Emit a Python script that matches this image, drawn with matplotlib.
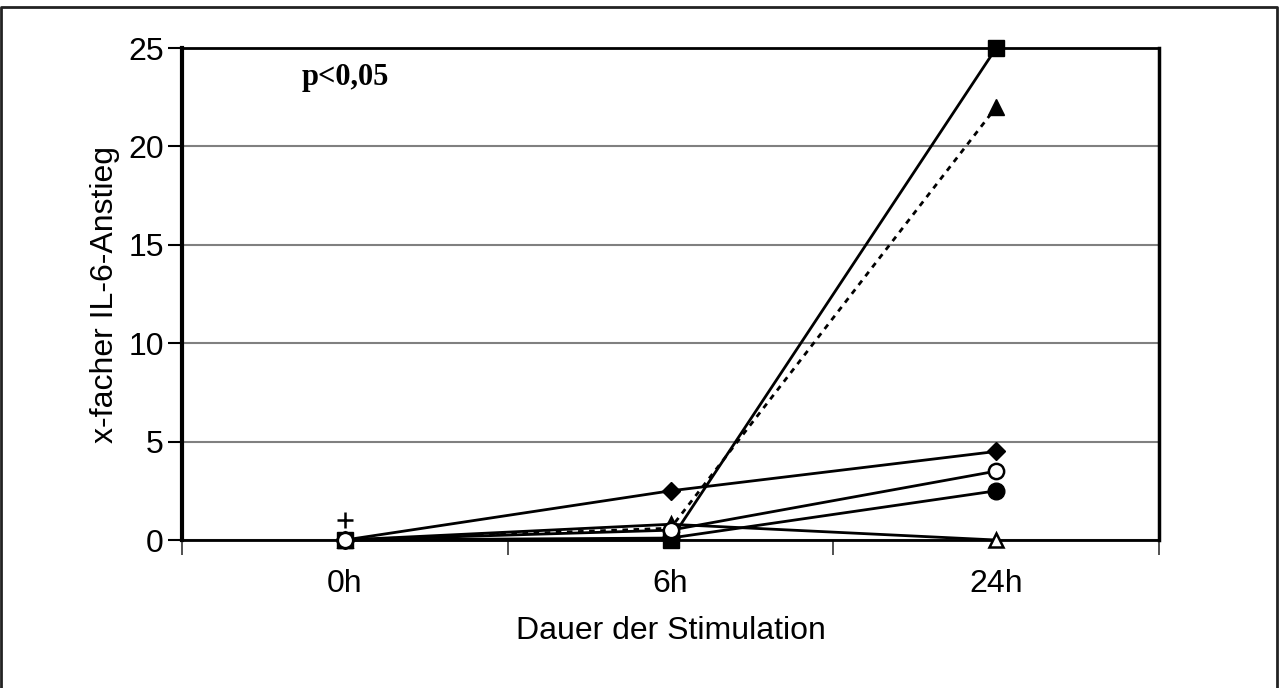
import matplotlib.pyplot as plt
from matplotlib.lines import Line2D

# categories and series values
categories = ['0h', '6h', '24h']
square_filled = [0, 0, 25]
triangle_filled = [0, 0.6, 22]
diamond_filled = [0, 2.5, 4.5]
circle_open = [0, 0.5, 3.5]
circle_filled = [0, 0.1, 2.5]
triangle_open = [0, 0.8, 0]
plus_marker = [1.0]
y_ticks = [0, 5, 10, 15, 20, 25]

plt.rcParams['font.family'] = ['Liberation Sans', 'DejaVu Sans']

fig = plt.figure(figsize=(12.8, 6.88), dpi=100)
ax = fig.add_axes([0.1422, 0.2151, 0.7633, 0.7151])

x = list(range(len(categories)))
lw = 2.0

ax.plot(x, triangle_open, color='black', lw=lw, marker='^', ms=10,
        mfc='white', mec='black', mew=1.8, zorder=3, clip_on=False)
ax.plot(x, circle_filled, color='black', lw=lw, marker='o', ms=12,
        mfc='black', mec='black', zorder=3, clip_on=False)
ax.plot(x, diamond_filled, color='black', lw=lw, marker='D', ms=9,
        mfc='black', mec='black', zorder=3, clip_on=False)
ax.plot(x, triangle_filled, color='black', lw=lw, ls=(0, (2, 2)), marker='^',
        ms=11, mfc='black', mec='black', zorder=3, clip_on=False)
ax.plot(x, square_filled, color='black', lw=lw, marker='s', ms=11,
        mfc='black', mec='black', zorder=4, clip_on=False)
ax.plot(x, circle_open, color='black', lw=lw, marker='o', ms=11,
        mfc='white', mec='black', mew=1.8, zorder=5, clip_on=False)
ax.plot(x[:len(plus_marker)], plus_marker, ls='none', marker='+', ms=12,
        mew=1.8, color='black', zorder=5, clip_on=False)

ax.set_xlim(-0.5, 2.5)
ax.set_ylim(0, 25)
ax.set_yticks(y_ticks)
ax.set_xticks(x)
ax.set_xticklabels(categories)
ax.set_xticks([-0.5, 0.5, 1.5, 2.5], minor=True)
ax.tick_params(axis='x', which='major', length=0, labelsize=23, pad=21)
ax.tick_params(axis='x', which='minor', length=11, width=1.2, color='#333333',
               direction='out')
ax.tick_params(axis='y', which='major', length=10, width=1.5, labelsize=23,
               pad=3, direction='out')

ax.yaxis.grid(True, color='#808080', lw=1.5)
ax.set_axisbelow(True)

for side in ['top', 'right', 'bottom']:
    ax.spines[side].set_linewidth(2.0)
    ax.spines[side].set_color('black')
ax.spines['left'].set_linewidth(3.0)
ax.spines['right'].set_linewidth(2.5)

ax.set_xlabel('Dauer der Stimulation', fontsize=23, labelpad=12)
ax.set_ylabel('x-facher IL-6-Anstieg', fontsize=23, labelpad=6)

ax.text(0.122, 0.941, 'p<0,05', transform=ax.transAxes, fontsize=22,
        fontweight='bold', family=['Liberation Serif', 'DejaVu Serif'],
        ha='left', va='center')

# outer frame (left, top, right)
frame = Line2D([0.001, 0.001, 0.998, 0.998], [0.0, 0.99, 0.99, 0.0],
               transform=fig.transFigure, color='#222222', lw=2)
fig.add_artist(frame)

fig.savefig('out.png', dpi=100)
